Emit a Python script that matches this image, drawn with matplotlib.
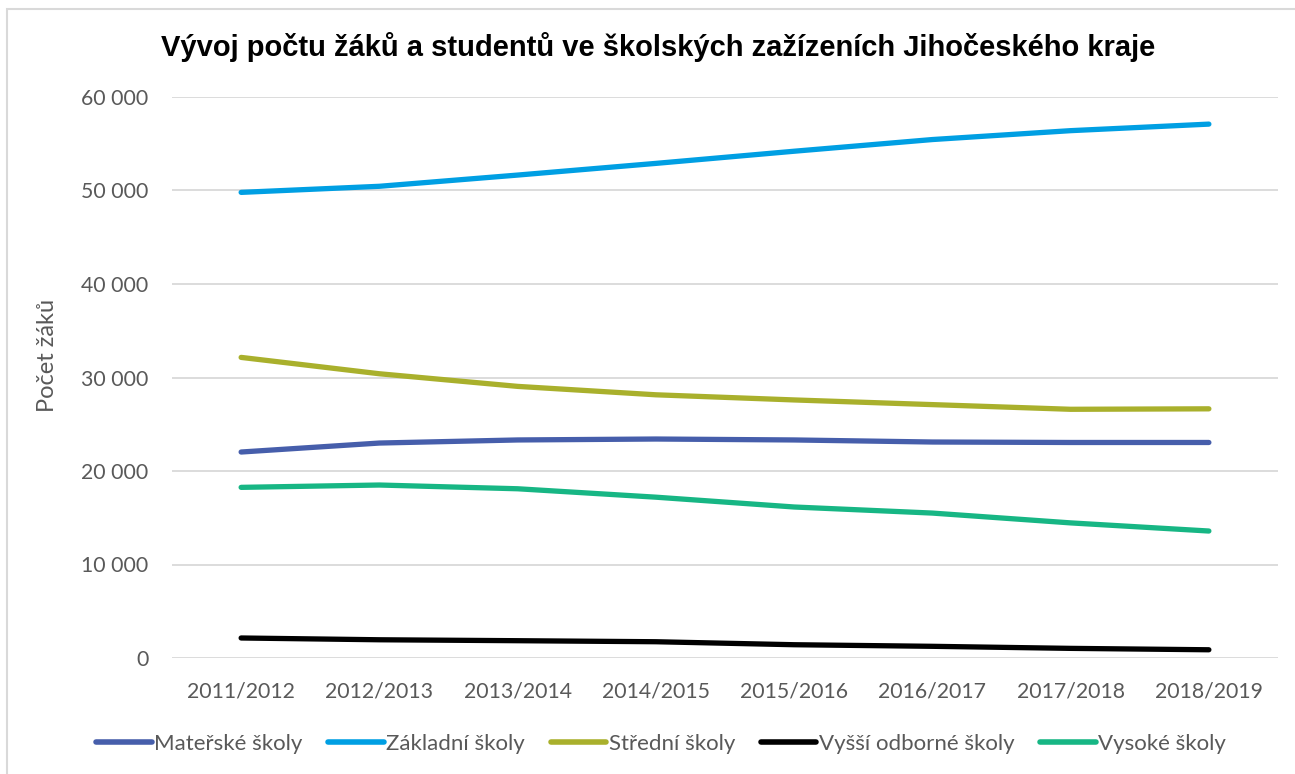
import matplotlib
matplotlib.use("Agg")
import matplotlib.pyplot as plt
from matplotlib.ticker import FuncFormatter
from matplotlib.patches import Rectangle

years = ["2011/2012", "2012/2013", "2013/2014", "2014/2015",
         "2015/2016", "2016/2017", "2017/2018", "2018/2019"]
materske = [22030, 22990, 23320, 23420, 23320, 23100, 23050, 23050]
zakladni = [49800, 50450, 51650, 52900, 54200, 55450, 56400, 57100]
stredni = [32150, 30400, 29050, 28150, 27600, 27100, 26600, 26650]
vyssi = [2140, 1950, 1850, 1740, 1420, 1250, 1030, 880]
vysoke = [18250, 18500, 18100, 17200, 16150, 15500, 14450, 13580]

series = [
    ("Mateřské školy", materske, "#465EAB"),
    ("Základní školy", zakladni, "#009FE3"),
    ("Střední školy", stredni, "#A9B02C"),
    ("Vyšší odborné školy", vyssi, "#000000"),
    ("Vysoké školy", vysoke, "#17B684"),
]

W, H = 1295, 774
fig = plt.figure(figsize=(W / 100, H / 100), dpi=100)
ax = fig.add_axes([172 / W, 1 - 658 / H, (1278 - 172) / W, (658 - 97) / H])

x = list(range(len(years)))
for name, vals, col in series:
    ax.plot(x, vals, color=col, lw=3.8, solid_capstyle="round",
            solid_joinstyle="round", label=name)

ax.set_xlim(-0.5, len(years) - 0.5)
ax.set_ylim(0, 60000)
ax.set_yticks(range(0, 60001, 10000))
ax.yaxis.set_major_formatter(FuncFormatter(lambda v, p: f"{int(v):,}".replace(",", " ")))
ax.set_xticks(x)
ax.set_xticklabels(years)
ax.grid(axis="y", color="#D9D9D9", lw=1.3)
ax.set_axisbelow(True)
for s in ax.spines.values():
    s.set_visible(False)
ax.tick_params(length=0, labelsize=15.3, labelcolor="#595959")
ax.tick_params(axis="x", pad=17)
ax.tick_params(axis="y", pad=17)
for lab in ax.get_xticklabels() + ax.get_yticklabels():
    lab.set_family("Lato")

fig.text(48 / W, 1 - 355 / H, "Počet žáků", rotation=90, ha="center", va="center",
         fontsize=17, color="#595959", family="Lato")
fig.text(658 / W, 1 - 47 / H,
         "Vývoj počtu žáků a studentů ve školských zažízeních Jihočeského kraje",
         ha="center", va="center", fontsize=21, fontweight="bold",
         family="Liberation Sans", color="#000000")

leg = fig.legend(loc="center", bbox_to_anchor=(661 / W, 1 - 744 / H), ncol=5,
                 frameon=False, prop={"family": "Lato", "size": 16},
                 handlelength=2.5, handletextpad=0.1, columnspacing=1.17)
for t in leg.get_texts():
    t.set_color("#595959")
for h in leg.get_lines():
    h.set_linewidth(4)
    h.set_solid_capstyle("round")

fig.patches.append(Rectangle((7 / W, -0.1), 1.2, 1 - 9 / H + 0.1,
                             transform=fig.transFigure, fill=False,
                             edgecolor="#D9D9D9", lw=1.5))

fig.savefig("out.png", dpi=100)
